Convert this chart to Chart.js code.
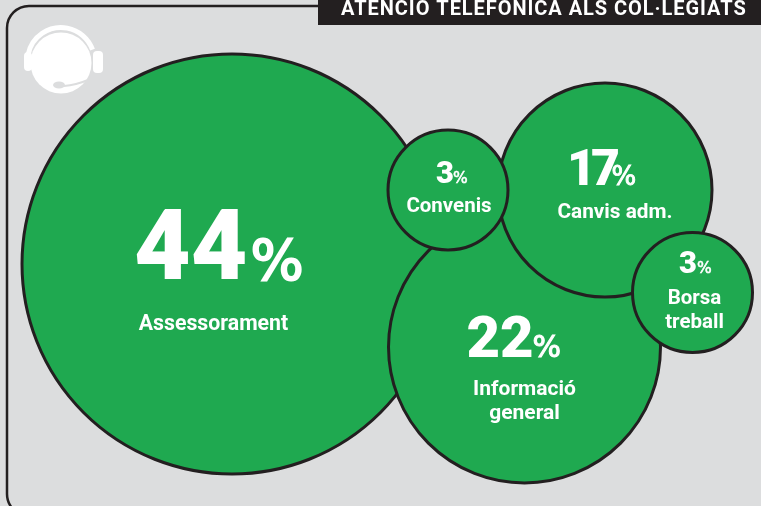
<!DOCTYPE html>
<html><head><meta charset="utf-8">
<style>html,body{margin:0;padding:0;background:#dcddde;overflow:hidden}canvas{display:block}</style>
<script src="https://cdn.jsdelivr.net/npm/chart.js@4"></script>
</head><body><canvas id="c" width="761" height="506"></canvas>
<script>
const titleText = "ATENCIÓ TELEFÒNICA ALS COL·LEGIATS";
const categories = [["Assessorament"], ["Informació","general"], ["Canvis adm."], ["Convenis"], ["Borsa","treball"]];
const percents = [44, 22, 17, 3, 3];
const bubbleX = [232, 524.5, 605, 448, 692.5];
const bubbleY = [264, 347, 190, 190, 292.5];
const bubbleR = [210, 136, 107, 60, 60];

const FONT = 'Roboto, sans-serif';
const INK = '#231f20', GREEN = '#1fa950', GREY = '#dcddde';
const layouts = [
  {nl:-98,base:15,ns:98,sp:0,px:18.5,ps:56,lx:-18.5,ly:66,ls:21.3,lg:24},
  {nl:-58,base:10,ns:58,sp:0,px:8,ps:30,lx:0,ly:48,ls:21,lg:24},
  {nl:-38,base:-5,ns:50,sp:-5,px:6.5,ps:26,lx:10,ly:28,ls:20.8,lg:24},
  {nl:-12,base:-7,ns:31,sp:0,px:5,ps:15.5,lx:1,ly:22,ls:20.5,lg:24},
  {nl:-13.5,base:-19.5,ns:31,sp:0,px:4.5,ps:15.5,lx:2,ly:11,ls:20.5,lg:24}
];

const decor = {
  id:'decor',
  beforeDatasetsDraw(ch){
    const c = ch.ctx;
    c.save();
    c.fillStyle = GREY; c.fillRect(0,0,761,506);
    c.strokeStyle = INK; c.lineWidth = 2.5;
    c.beginPath(); c.roundRect(7,6,800,510,22); c.stroke();
    c.fillStyle = '#fff';
    c.beginPath(); c.arc(61,63,30.5,0,Math.PI*2); c.fill();
    c.strokeStyle = '#fff'; c.lineWidth = 5;
    c.beginPath(); c.arc(61,61,33.5,Math.PI*1.06,Math.PI*1.89); c.stroke();
    c.beginPath(); c.roundRect(24,52,8,19,4); c.fill();
    c.beginPath(); c.roundRect(93,51,10,22,4); c.fill();
    c.strokeStyle = GREY; c.lineWidth = 2;
    c.beginPath(); c.moveTo(64,86); c.quadraticCurveTo(76,85,88,80); c.stroke();
    c.fillStyle = GREY;
    c.beginPath(); c.ellipse(59,85,6,3.5,0,0,Math.PI*2); c.fill();
    c.restore();
  },
  afterDatasetsDraw(ch){
    const c = ch.ctx;
    const pts = ch.getDatasetMeta(0).data;
    c.save();
    c.fillStyle = '#fff';
    c.strokeStyle = '#fff';
    pts.forEach((p,i)=>{
      const L = layouts[i];
      c.textBaseline = 'alphabetic';
      c.textAlign = 'left';
      c.letterSpacing = L.sp + 'px';
      c.font = `900 ${L.ns}px ${FONT}`;
      c.fillText(String(percents[i]),p.x+L.nl,p.y+L.base);
      c.letterSpacing = '0px';
      c.font = `400 ${L.ps}px "DejaVu Sans", sans-serif`;
      c.lineWidth = L.ps*0.035;
      c.fillText('%',p.x+L.px,p.y+L.base);
      c.strokeText('%',p.x+L.px,p.y+L.base);
      c.textAlign = 'center';
      c.font = `700 ${L.ls}px ${FONT}`;
      categories[i].forEach((t,k)=>c.fillText(t,p.x+L.lx,p.y+L.ly+k*L.lg));
    });
    c.fillStyle = INK; c.fillRect(318,0,443,25);
    c.fillStyle = '#fff'; c.textAlign='left'; c.textBaseline='alphabetic';
    c.font = `700 20px ${FONT}`;
    c.letterSpacing = '0.95px';
    c.fillText(titleText,341,15);
    c.restore();
  }
};

new Chart(document.getElementById('c'),{
  type:'bubble',
  data:{datasets:[{
    label:'Atenció telefònica',
    data:percents.map((v,i)=>({x:bubbleX[i],y:bubbleY[i],r:bubbleR[i],v})),
    backgroundColor:GREEN,borderColor:INK,borderWidth:3,clip:false
  }]},
  options:{
    responsive:false,animation:false,
    layout:{padding:0,autoPadding:false},
    plugins:{legend:{display:false},tooltip:{enabled:false},title:{display:false}},
    scales:{
      x:{type:'linear',min:0,max:761,display:false},
      y:{type:'linear',min:0,max:506,reverse:true,display:false}
    }
  },
  plugins:[decor]
});
</script></body></html>
